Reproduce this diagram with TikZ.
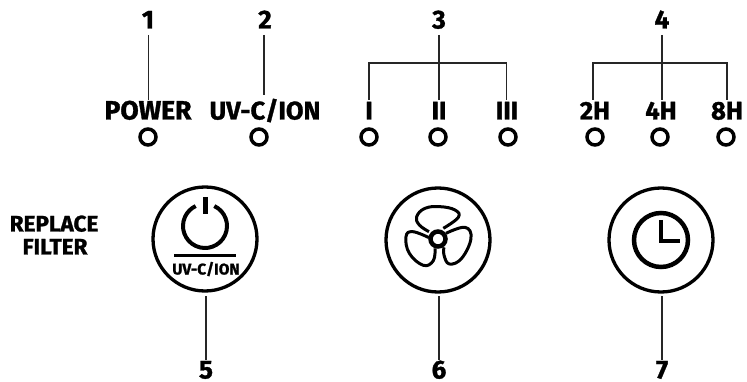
\documentclass[tikz,border=0pt]{standalone}
\usepackage{fontspec}
\setmainfont{Fira Sans}[BoldFont={Fira Sans Bold}]
\newfontfamily\heavy{Fira Sans Bold}[FakeBold=1.2]
\begin{document}
\begin{tikzpicture}[x=1pt,y=-1pt,
  lbl/.style={font=\heavy\fontsize{25.5}{25.5}\selectfont,inner sep=0pt,text height=17pt,text depth=0pt,black},
  num/.style={font=\heavy\fontsize{26}{26}\selectfont,inner sep=0pt,text height=17pt,text depth=0pt,black},
  side/.style={font=\heavy\fontsize{22.5}{22.5}\selectfont,inner sep=0pt,text height=15pt,text depth=0pt,black},
  led/.style={circle,draw=black,line width=3.5pt,minimum size=16pt,inner sep=0pt},
  btn/.style={circle,draw=black,line width=3.3pt,minimum size=104pt,inner sep=0pt},
  lead/.style={draw=black!85,line width=1.3pt},
  blade/.style={draw=black,line width=3pt,line join=round}]
\useasboundingbox (0,0) rectangle (747,382);
% numbers
\node[num] (n1) at (148,20) {1};
\node[num] (n2) at (265,20) {2};
\node[num] (n3) at (439,20) {3};
\node[num] (n4) at (662,20) {4};
\node[num] (n5) at (206,370) {5};
\node[num] (n6) at (439,370) {6};
\node[num] (n7) at (662,370) {7};
% labels
\node[lbl,font=\heavy\fontsize{26.5}{26.5}\selectfont] (pw) at (148,111) {POWER};
\node[lbl] (uv) at (265,111) {UV-C/ION};
\node[lbl] (s1) at (369,111) {I};
\node[lbl] (s2) at (439,111) {II};
\node[lbl] (s3) at (507,111) {III};
\node[lbl] (h2) at (595,111) {2H};
\node[lbl] (h4) at (661,111) {4H};
\node[lbl] (h8) at (727,111) {8H};
% LEDs
\node[led] (l1) at (148,137) {};
\node[led] (l2) at (259,137) {};
\node[led] (l3) at (369,137) {};
\node[led] (l4) at (438,137) {};
\node[led] (l5) at (508,137) {};
\node[led] (l6) at (595,137) {};
\node[led] (l7) at (660,137) {};
\node[led] (l8) at (726,137) {};
% buttons
\node[btn] (b1) at (205,239) {};
\node[btn] (b2) at (438,240) {};
\node[btn] (b3) at (661,240) {};
\node[side] (r1) at (54,224) {REPLACE};
\node[side] (r2) at (55,247) {FILTER};
% connector ends
\coordinate (t1) at (148.5,35); \coordinate (e1) at (148.5,100);
\coordinate (t2) at (264,35);   \coordinate (e2) at (264,95);
\coordinate (t3) at (439,35);   \coordinate (e3) at (439,100);
\coordinate (a3) at (369,100);  \coordinate (c3) at (506.5,100);
\coordinate (t4) at (662,35);   \coordinate (e4) at (662,100);
\coordinate (a4) at (593,100);  \coordinate (c4) at (727,100);
\coordinate (u5) at (206,296);  \coordinate (d5) at (206,360);
\coordinate (u6) at (439,296);  \coordinate (d6) at (439,360);
\coordinate (u7) at (662,296);  \coordinate (d7) at (662,360);
\path[lead] (t1)--(e1) (t2)--(e2) (t3)--(e3) (t4)--(e4);
\path[lead] (a3)--(369,63)--(506.5,63)--(c3);
\path[lead] (a4)--(593,63)--(727,63)--(c4);
\path[lead] (u5)--(d5) (u6)--(d6) (u7)--(d7);
% power icon
\draw[black,line width=4pt] (205,226) ++(-65:22) arc[start angle=-65,end angle=245,radius=22];
\draw[black,line width=5.5pt] (205.5,197)--(205.5,214);
\draw[black,line width=3pt] (174,255.5)--(236,255.5);
\node[font=\heavy\fontsize{15.5}{15.5}\selectfont,inner sep=0pt,text height=11pt,text depth=0pt] (bt) at (206,269) {UV-C/ION};
% fan
\begin{scope}[shift={(360,190)},x=0.3333pt,y=-0.3333pt]
\draw[blade] plot[smooth,tension=0.7] coordinates {(207,125)(178,105)(170,80)(195,55)(240,50)(285,60)(295,82)(250,115)};
\draw[blade] plot[smooth,tension=0.7] coordinates {(207,143)(158,125)(138,140)(148,190)(190,226)(220,212)(225,175)};
\draw[blade] plot[smooth,tension=0.7] coordinates {(258,130)(315,112)(333,145)(305,205)(268,222)(252,195)(252,172)};
\end{scope}
\draw[black,line width=4.5pt] (438,239) circle[radius=7.5];
% clock
\draw[black,line width=4.5pt] (661,240) circle[radius=27];
\draw[black,line width=4pt,line join=miter] (660.5,220)--(660.5,241)--(680,241);
\end{tikzpicture}
\end{document}
